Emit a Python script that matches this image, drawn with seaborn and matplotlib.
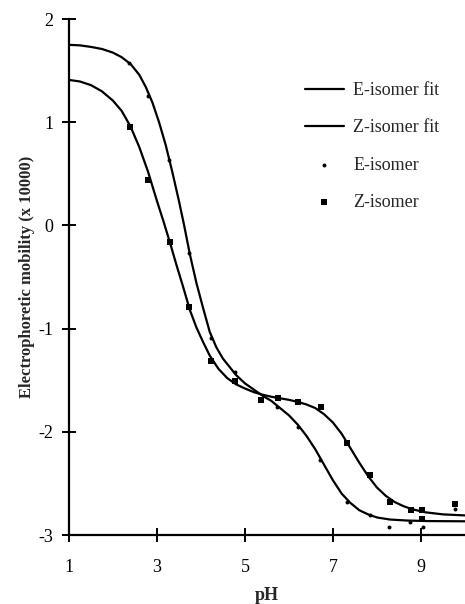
import matplotlib
matplotlib.use("Agg")
import matplotlib.pyplot as plt
import seaborn as sns

# fitted curves
fit_ph_e = [1.0, 1.25, 1.5, 1.75, 2.0, 2.2, 2.4, 2.6, 2.75, 2.9, 3.05, 3.2, 3.35, 3.5, 3.62, 3.75,
            3.9, 4.05, 4.2, 4.35, 4.5, 4.65, 4.8, 5.0, 5.2, 5.4, 5.6, 5.8, 6.0, 6.2, 6.4, 6.6,
            6.8, 7.0, 7.2, 7.4, 7.6, 7.8, 8.0, 8.3, 8.7, 9.2, 10.0]
fit_e = [1.75, 1.745, 1.73, 1.71, 1.675, 1.63, 1.565, 1.46, 1.34, 1.19, 1.0, 0.78, 0.52, 0.24, 0.0, -0.28,
         -0.56, -0.80, -1.03, -1.18, -1.29, -1.37, -1.45, -1.53, -1.59, -1.65, -1.70, -1.77, -1.84, -1.93, -2.04, -2.17,
         -2.32, -2.47, -2.60, -2.69, -2.76, -2.80, -2.83, -2.85, -2.86, -2.865, -2.867]

fit_ph_z = [1.0, 1.25, 1.5, 1.75, 2.0, 2.2, 2.4, 2.6, 2.8, 3.0, 3.15, 3.3, 3.45, 3.6, 3.75, 3.9,
            4.05, 4.2, 4.4, 4.6, 4.8, 5.0, 5.2, 5.4, 5.6, 5.8, 6.0, 6.2, 6.4, 6.6, 6.8, 7.0,
            7.2, 7.4, 7.6, 7.8, 8.0, 8.2, 8.4, 8.6, 8.8, 9.1, 9.5, 10.0]
fit_z = [1.41, 1.395, 1.36, 1.30, 1.21, 1.11, 0.96, 0.76, 0.52, 0.24, 0.04, -0.17, -0.39, -0.60, -0.82, -0.99,
         -1.13, -1.26, -1.39, -1.48, -1.54, -1.58, -1.615, -1.64, -1.66, -1.675, -1.69, -1.71, -1.735, -1.77, -1.83, -1.91,
         -2.02, -2.16, -2.30, -2.43, -2.54, -2.62, -2.68, -2.72, -2.75, -2.78, -2.80, -2.81]

# measured points
ph_e = [2.37, 2.81, 3.28, 3.73, 4.23, 4.77, 5.74, 6.21, 6.70, 7.31, 7.84, 8.28, 8.76, 9.04, 9.78]
mob_e = [1.57, 1.25, 0.63, -0.27, -1.09, -1.42, -1.76, -1.95, -2.27, -2.68, -2.81, -2.92, -2.87, -2.92, -2.75]

ph_z = [2.38, 2.81, 3.30, 3.72, 4.23, 4.78, 5.36, 5.76, 6.21, 6.73, 7.31, 7.85, 8.30, 8.77, 9.03, 9.03, 9.78]
mob_z = [0.95, 0.44, -0.16, -0.79, -1.31, -1.51, -1.69, -1.67, -1.71, -1.76, -2.11, -2.42, -2.68, -2.76, -2.76, -2.84, -2.70]

sns.set_style("ticks")
plt.rcParams['font.family'] = ['Liberation Serif', 'DejaVu Serif']

fig = plt.figure(figsize=(4.65, 6.04), dpi=100)
ax = fig.add_axes([0.148, 0.1142, 0.852, 0.8543])

sns.lineplot(x=fit_ph_e, y=fit_e, ax=ax, color='black', lw=1.6, sort=False, label='E-isomer fit')
sns.lineplot(x=fit_ph_z, y=fit_z, ax=ax, color='black', lw=1.6, sort=False, label='Z-isomer fit')
sns.scatterplot(x=ph_e, y=mob_e, ax=ax, color='black', marker='o', s=8, linewidth=0, label='E-isomer')
sns.scatterplot(x=ph_z, y=mob_z, ax=ax, color='black', marker='s', s=18, linewidth=0, label='Z-isomer')

ax.set_xlim(1, 10)
ax.set_ylim(-3, 2)
ax.set_xticks([1, 3, 5, 7, 9])
ax.set_yticks([-3, -2, -1, 0, 1, 2])
ax.set_yticklabels(['-3', '-2', '-1', '0', '1', '2'])

sns.despine(ax=ax)
for s in ['left', 'bottom']:
    ax.spines[s].set_linewidth(1.6)
    ax.spines[s].set_color('black')
ax.tick_params(axis='both', direction='inout', length=10, width=1.4, colors='black', labelsize=13)
ax.tick_params(axis='x', pad=12)
ax.tick_params(axis='y', pad=6)

ax.set_xlabel('pH', fontsize=13, fontweight='bold')
ax.set_ylabel('Electrophoretic mobility (x 10000)', fontsize=12, fontweight='bold')
ax.xaxis.set_label_coords(0.5, -0.10)
ax.yaxis.set_label_coords(-0.085, 0.5)

ax.legend(loc='upper left', bbox_to_anchor=(0.655, 0.864), bbox_transform=fig.transFigure,
          frameon=False, fontsize=13, handlelength=2.2, handletextpad=0.5,
          labelspacing=1.12, borderpad=0, borderaxespad=0)

fig.savefig('out.png', dpi=100)
